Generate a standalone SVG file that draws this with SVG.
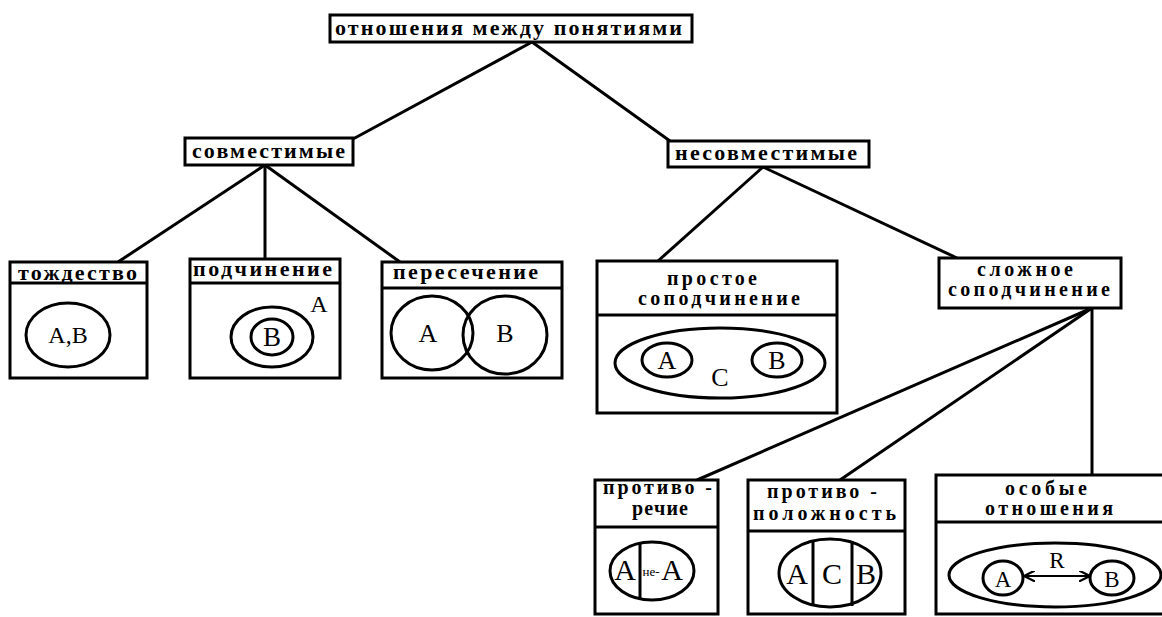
<svg xmlns="http://www.w3.org/2000/svg" width="1162" height="617" viewBox="0 0 1162 617" font-family="Liberation Serif, serif">
<style>
.box{fill:#fff;stroke:#000;stroke-width:3}
.sep{stroke:#000;stroke-width:3}
.conn{stroke:#000;stroke-width:3;fill:none}
.sh{fill:none;stroke:#000;stroke-width:3}
.h{font-family:'Liberation Serif',serif;font-weight:bold;font-size:22px}
.h2{font-family:'Liberation Serif',serif;font-weight:bold;font-size:20px}
.l{font-family:'Liberation Serif',serif;font-size:24px;text-anchor:middle}
</style>
<defs>
<marker id="ah" viewBox="0 0 10 10" refX="10" refY="5" markerWidth="11" markerHeight="11" markerUnits="userSpaceOnUse" orient="auto-start-reverse">
<path d="M0,0 L10,5 L0,10" fill="none" stroke="#000" stroke-width="2"/>
</marker>
</defs>
<rect width="1162" height="617" fill="#fff"/>
<g id="connectors">
<line class="conn" x1="532" y1="42" x2="353" y2="139"/>
<line class="conn" x1="532" y1="42" x2="670" y2="141"/>
<line class="conn" x1="265" y1="165" x2="118" y2="262"/>
<line class="conn" x1="265" y1="165" x2="265" y2="259"/>
<line class="conn" x1="265" y1="165" x2="400" y2="262"/>
<line class="conn" x1="763" y1="167" x2="658" y2="261"/>
<line class="conn" x1="763" y1="167" x2="957" y2="258"/>
<line class="conn" x1="1092" y1="308" x2="697" y2="480"/>
<line class="conn" x1="1092" y1="308" x2="840" y2="480"/>
<line class="conn" x1="1092" y1="308" x2="1092" y2="475"/>
</g>
<g id="root">
<rect class="box" x="330" y="15" width="362" height="27"/>
<text class="h" x="335" y="35" textLength="347" lengthAdjust="spacing">отношения между понятиями</text>
</g>
<g id="compatible">
<rect class="box" x="185" y="138" width="168" height="27"/>
<text class="h" x="192" y="158" textLength="153" lengthAdjust="spacing">совместимые</text>
</g>
<g id="incompatible">
<rect class="box" x="668" y="141" width="201" height="26"/>
<text class="h" x="675" y="160" textLength="182" lengthAdjust="spacing">несовместимые</text>
</g>
<g id="identity">
<rect class="box" x="10" y="262" width="137" height="116"/>
<line class="sep" x1="10" y1="283" x2="147" y2="283"/>
<text class="h" x="18" y="280" textLength="119" lengthAdjust="spacing">тождество</text>
<ellipse class="sh" cx="68" cy="335" rx="42" ry="32"/>
<text class="l" x="68" y="343" style="font-size:24px">A,B</text>
</g>
<g id="subordination">
<rect class="box" x="190" y="259" width="150" height="119"/>
<line class="sep" x1="190" y1="283" x2="340" y2="283"/>
<text class="h" x="193" y="276" textLength="139" lengthAdjust="spacing">подчинение</text>
<ellipse class="sh" cx="272" cy="337" rx="41" ry="30"/>
<ellipse class="sh" cx="272" cy="337" rx="21" ry="18"/>
<text class="l" x="272" y="346" style="font-size:27px">B</text>
<text class="l" x="319" y="312" style="font-size:24px">A</text>
</g>
<g id="intersection">
<rect class="box" x="382" y="262" width="180" height="116"/>
<line class="sep" x1="382" y1="288" x2="562" y2="288"/>
<text class="h" x="393" y="279" textLength="145" lengthAdjust="spacing">пересечение</text>
<ellipse class="sh" cx="432" cy="333" rx="41" ry="37"/>
<ellipse class="sh" cx="505" cy="335" rx="42" ry="39"/>
<text class="l" x="428" y="342" style="font-size:26px">A</text>
<text class="l" x="505" y="342" style="font-size:26px">B</text>
</g>
<g id="simple-coordination">
<rect class="box" x="597" y="261" width="240" height="152"/>
<line class="sep" x1="597" y1="315" x2="837" y2="315"/>
<text class="h2" x="667" y="285" textLength="90" lengthAdjust="spacing">простое</text>
<text class="h2" x="638" y="305" textLength="162" lengthAdjust="spacing">соподчинение</text>
<ellipse class="sh" cx="720" cy="363" rx="105" ry="35"/>
<ellipse class="sh" cx="667" cy="360" rx="25" ry="17"/>
<ellipse class="sh" cx="777" cy="360" rx="25" ry="17"/>
<text class="l" x="667" y="369" style="font-size:26px">A</text>
<text class="l" x="777" y="369" style="font-size:26px">B</text>
<text class="l" x="720" y="386" style="font-size:26px">C</text>
</g>
<g id="complex-coordination">
<rect class="box" x="939" y="258" width="182" height="50"/>
<text class="h2" x="977" y="276" textLength="96" lengthAdjust="spacing">сложное</text>
<text class="h2" x="948" y="296" textLength="162" lengthAdjust="spacing">соподчинение</text>
</g>
<g id="contradiction">
<rect class="box" x="595" y="480" width="123" height="134"/>
<line class="sep" x1="595" y1="527" x2="718" y2="527"/>
<text class="h2" x="603" y="494" textLength="109" lengthAdjust="spacing">противо -</text>
<text class="h2" x="632" y="515" textLength="56" lengthAdjust="spacing">речие</text>
<ellipse class="sh" cx="652" cy="571" rx="42" ry="29"/>
<line class="sep" x1="640" y1="542" x2="640" y2="600"/>
<text class="l" x="625" y="580" style="font-size:30px">A</text>
<text class="l" x="651" y="576" style="font-size:13px">не-</text>
<text class="l" x="672" y="580" style="font-size:30px">A</text>
</g>
<g id="contrariety">
<rect class="box" x="748" y="480" width="157" height="134"/>
<line class="sep" x1="748" y1="531" x2="905" y2="531"/>
<text class="h2" x="767" y="498" textLength="110" lengthAdjust="spacing">противо -</text>
<text class="h2" x="753" y="520" textLength="143" lengthAdjust="spacing">положность</text>
<ellipse class="sh" cx="830" cy="573" rx="51" ry="34"/>
<line class="sep" x1="813" y1="541" x2="813" y2="606"/>
<line class="sep" x1="852" y1="541" x2="852" y2="606"/>
<text class="l" x="797" y="584" style="font-size:30px">A</text>
<text class="l" x="832" y="584" style="font-size:30px">C</text>
<text class="l" x="866" y="584" style="font-size:30px">B</text>
</g>
<g id="special-relations">
<rect class="box" x="936" y="475" width="240" height="139"/>
<line class="sep" x1="936" y1="522" x2="1176" y2="522"/>
<text class="h2" x="1005" y="495" textLength="82" lengthAdjust="spacing">особые</text>
<text class="h2" x="985" y="515" textLength="128" lengthAdjust="spacing">отношения</text>
<ellipse class="sh" cx="1055" cy="575" rx="106" ry="32"/>
<ellipse class="sh" cx="1003" cy="578" rx="20" ry="17"/>
<ellipse class="sh" cx="1112" cy="578" rx="22" ry="17"/>
<line x1="1024" y1="576" x2="1090" y2="576" stroke="#000" stroke-width="2" marker-start="url(#ah)" marker-end="url(#ah)"/>
<text class="l" x="1003" y="587" style="font-size:23px">A</text>
<text class="l" x="1112" y="587" style="font-size:23px">B</text>
<text class="l" x="1057" y="568" style="font-size:23px">R</text>
</g>
</svg>
